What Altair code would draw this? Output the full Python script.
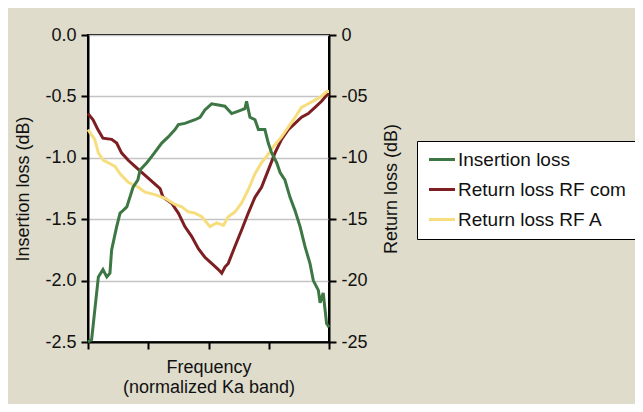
import altair as alt
import pandas as pd

# ---- data (normalized frequency 0..1) ----
freq_il = [0.0, 0.015, 0.043, 0.062, 0.078, 0.091, 0.098, 0.119, 0.133, 0.145, 0.161, 0.187,
           0.207, 0.216, 0.244, 0.264, 0.306, 0.333, 0.361, 0.375, 0.402, 0.444, 0.465, 0.485,
           0.513, 0.541, 0.568, 0.596, 0.624, 0.651, 0.658, 0.672, 0.693, 0.707, 0.734, 0.748,
           0.762, 0.783, 0.797, 0.817, 0.838, 0.859, 0.880, 0.900, 0.921, 0.935, 0.956, 0.963,
           0.976, 0.990, 1.0]
insertion_loss = [-2.5, -2.48, -1.97, -1.91, -1.97, -1.94, -1.75, -1.56, -1.45, -1.43, -1.40, -1.24,
                  -1.18, -1.10, -1.04, -0.99, -0.88, -0.83, -0.77, -0.73, -0.72, -0.69, -0.67, -0.61,
                  -0.56, -0.57, -0.58, -0.64, -0.62, -0.60, -0.54, -0.67, -0.69, -0.77, -0.77, -0.88,
                  -0.96, -1.04, -1.12, -1.18, -1.32, -1.43, -1.56, -1.72, -1.86, -2.0, -2.08, -2.18,
                  -2.10, -2.35, -2.38]

freq_com = [0.0, 0.021, 0.041, 0.062, 0.098, 0.119, 0.139, 0.167, 0.195, 0.230, 0.264, 0.299,
            0.311, 0.347, 0.375, 0.402, 0.430, 0.458, 0.485, 0.513, 0.541, 0.555, 0.568, 0.582,
            0.610, 0.637, 0.665, 0.693, 0.720, 0.748, 0.776, 0.803, 0.831, 0.859, 0.886, 0.914,
            0.942, 0.969, 0.990, 1.0]
return_loss_com = [-6.4, -6.9, -7.7, -8.4, -8.5, -8.8, -9.6, -10.2, -10.7, -11.3, -11.9, -12.5,
                   -13.2, -13.7, -14.5, -15.6, -16.4, -17.4, -18.1, -18.6, -19.1, -19.4, -18.9, -18.6,
                   -17.2, -15.9, -14.5, -13.2, -12.4, -11.0, -9.6, -8.5, -7.7, -7.2, -6.7, -6.4,
                   -5.9, -5.4, -4.9, -4.8]

freq_a = [0.0, 0.028, 0.043, 0.064, 0.084, 0.112, 0.133, 0.167, 0.209, 0.237, 0.278, 0.320,
          0.361, 0.389, 0.416, 0.444, 0.472, 0.506, 0.534, 0.562, 0.582, 0.610, 0.637, 0.665,
          0.693, 0.720, 0.741, 0.769, 0.803, 0.831, 0.859, 0.886, 0.914, 0.942, 0.969, 0.990, 1.0]
return_loss_a = [-7.7, -8.5, -9.6, -10.2, -10.4, -10.7, -11.3, -12.0, -12.4, -12.8, -13.0, -13.3,
                 -13.8, -14.0, -14.4, -14.5, -14.8, -15.6, -15.3, -15.5, -14.8, -14.4, -13.7, -12.6,
                 -11.3, -10.4, -9.9, -9.1, -8.3, -7.5, -6.7, -5.9, -5.6, -5.3, -5.0, -4.6, -4.6]

series_names = ["Insertion loss", "Return loss RF com", "Return loss RF A"]
series_colors = ["#3d7744", "#7d1f22", "#f6de7e"]

left_ticks = [0, -0.5, -1.0, -1.5, -2.0, -2.5]
right_ticks = [0, -5, -10, -15, -20, -25]
x_ticks = [0, 0.25, 0.5, 0.75, 1.0]

df_il = pd.DataFrame({"f": freq_il, "v": insertion_loss, "s": series_names[0]})
df_rl = pd.concat([
    pd.DataFrame({"f": freq_com, "v": return_loss_com, "s": series_names[1]}),
    pd.DataFrame({"f": freq_a, "v": return_loss_a, "s": series_names[2]}),
])

FONT = "Liberation Sans"

color = alt.Color(
    "s:N",
    scale=alt.Scale(domain=series_names, range=series_colors),
    legend=alt.Legend(
        title=None, orient="none", legendX=329, legendY=106, direction="vertical",
        fillColor="white", strokeColor="black", padding=9,
        symbolType="M-1,0H3", symbolSize=169, symbolStrokeWidth=3,
        labelFontSize=19, labelFont=FONT, labelColor="#111", labelOffset=13,
        rowPadding=10, labelLimit=300,
    ),
)

x = alt.X(
    "f:Q",
    scale=alt.Scale(domain=[0, 1], nice=False, zero=False),
    axis=alt.Axis(values=x_ticks, labels=False, grid=False,
                  title=["Frequency", "(normalized Ka band)"], titlePadding=8),
)

left = alt.Chart(df_il).mark_line(strokeWidth=3).encode(
    x=x,
    y=alt.Y(
        "v:Q",
        scale=alt.Scale(domain=[-2.5, 0], nice=False, zero=False),
        axis=alt.Axis(
            orient="left", values=left_ticks, grid=True, gridColor="#c4c4c4", gridWidth=1.5,
            title="Insertion loss (dB)", titlePadding=12,
            labelExpr="datum.value == 0 ? '0.0' : (datum.value % 1 == 0 ? datum.value + '.0' : '' + datum.value)",
        ),
    ),
    color=color,
)

right = alt.Chart(df_rl).mark_line(strokeWidth=3).encode(
    x=x,
    y=alt.Y(
        "v:Q",
        scale=alt.Scale(domain=[-25, 0], nice=False, zero=False),
        axis=alt.Axis(
            orient="right", values=right_ticks, grid=False,
            title="Return loss (dB)", titlePadding=15, titleAngle=270, titleBaseline="top",
            labelExpr="datum.value == 0 ? '0' : (datum.value == -5 ? '-05' : '' + datum.value)",
        ),
    ),
    color=color,
)

chart = (
    alt.layer(right, left)
    .resolve_scale(y="independent", color="shared")
    .properties(
        width=241, height=307,
        autosize=alt.AutoSizeParams(type="none"),
        padding={"left": 80, "top": 27, "right": 306, "bottom": 62},
        background="#dfdccb",
    )
    .configure_view(fill="white", stroke="black", strokeWidth=2)
    .configure_axis(
        labelFont=FONT, titleFont=FONT, labelFontSize=18, titleFontSize=18,
        labelColor="#111", titleColor="#111", titleFontWeight="normal",
        domainColor="black", domainWidth=2, tickColor="black", tickWidth=2, tickSize=7,
        labelPadding=5,
    )
)

chart.save("out.html", embed_options={"renderer": "svg", "actions": False})
